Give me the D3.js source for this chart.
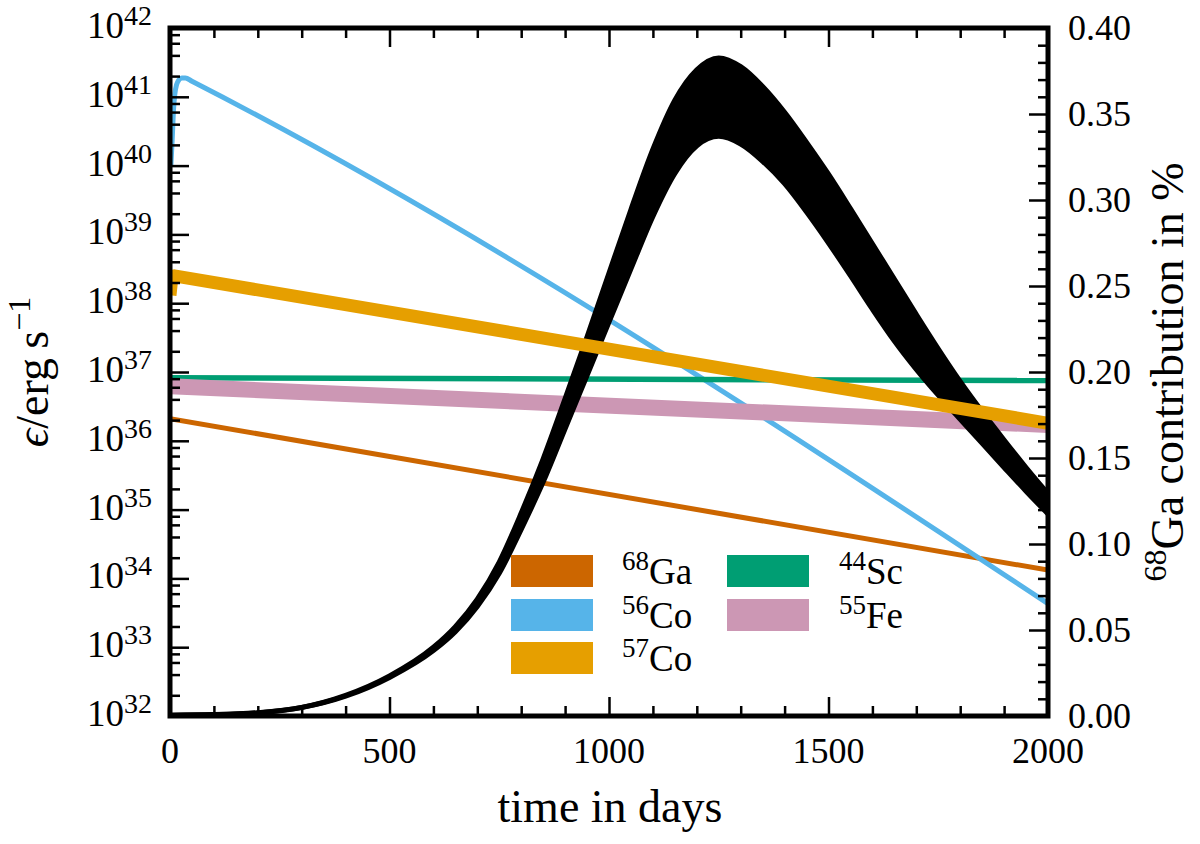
<!DOCTYPE html>
<meta charset="utf-8">
<script src="https://d3js.org/d3.v7.min.js"></script>
<style>
  body { margin: 0; background: #fff; }
  text { font-family: "Liberation Serif", serif; fill: #000; }
</style>
<div id="chart"></div>
<script>

// ---- data ----
const xTicks = [0, 500, 1000, 1500, 2000];
const yExps = [32, 33, 34, 35, 36, 37, 38, 39, 40, 41, 42];
const yRightTicks = [0, 0.05, 0.10, 0.15, 0.20, 0.25, 0.30, 0.35, 0.40];

// energy deposition (erg/s) per isotope
const daysCo56 = [2, 5, 8, 11, 15, 20, 27, 35, 50, 2000];
const co56 = [1.0e40, 2.4e40, 6.5e40, 1.1e41, 1.5e41, 1.75e41, 1.88e41, 1.88e41, 1.68e41, 4.3e33];
const daysCo57 = [0, 4, 10, 2000];
const co57 = [1.3e38, 2.3e38, 2.5e38, 1.8e36];
const daysGa68 = [0, 2000];
const ga68 = [2.1e36, 1.32e34];
const daysSc44 = [0, 2000];
const sc44 = [8.25e36, 7.5e36];
const daysFe55 = [0, 2000];
const fe55 = [6.2e36, 1.7e36];

// 68Ga contribution in % (right axis): upper and lower edge of the band
const daysBand = [0, 100, 200, 300, 400, 500, 600, 650, 700, 750, 800, 850, 900, 950, 1000, 1050, 1100, 1150, 1200, 1250, 1300, 1350, 1400, 1450, 1500, 1550, 1600, 1650, 1700, 1750, 1800, 1850, 1900, 1950, 2000];
const gaUpper = [0.0005, 0.0008, 0.0019, 0.0050, 0.0120, 0.0233, 0.0400, 0.0520, 0.0680, 0.0895, 0.1180, 0.1495, 0.1845, 0.2205, 0.2575, 0.2945, 0.3295, 0.3580, 0.3757, 0.3826, 0.3775, 0.3660, 0.3510, 0.3335, 0.3150, 0.2950, 0.2745, 0.2540, 0.2335, 0.2135, 0.1945, 0.1770, 0.1605, 0.1445, 0.1293];
const gaLower = [0.0005, 0.0008, 0.0018, 0.0049, 0.0115, 0.0224, 0.0380, 0.0490, 0.0637, 0.0830, 0.1085, 0.1360, 0.1670, 0.1980, 0.2290, 0.2600, 0.2905, 0.3155, 0.3315, 0.3370, 0.3325, 0.3225, 0.3095, 0.2930, 0.2750, 0.2560, 0.2365, 0.2180, 0.2015, 0.1865, 0.1725, 0.1585, 0.1445, 0.1307, 0.1175];

const legendItems = [
  {mass: "68", el: "Ga", color: "#CC6600", col: 0, row: 0},
  {mass: "56", el: "Co", color: "#56B4E9", col: 0, row: 1},
  {mass: "57", el: "Co", color: "#E69F00", col: 0, row: 2},
  {mass: "44", el: "Sc", color: "#009E73", col: 1, row: 0},
  {mass: "55", el: "Fe", color: "#CC97B4", col: 1, row: 1}
];

// ---- layout ----
const W = 1200, H = 844;
const pL = 170, pR = 1048, pT = 28, pB = 716;

const svg = d3.select("#chart")
  .append("svg")
    .attr("width", W)
    .attr("height", H);

const x = d3.scaleLinear().domain([0, 2000]).range([pL, pR]);
const y = d3.scaleLog().domain([1e32, 1e42]).range([pB, pT]);
const yR = d3.scaleLinear().domain([0, 0.4]).range([pB, pT]);

svg.append("clipPath").attr("id", "plot")
  .append("rect")
    .attr("x", pL).attr("y", pT)
    .attr("width", pR - pL).attr("height", pB - pT);

const plot = svg.append("g").attr("clip-path", "url(#plot)");

function series(days, vals, color, width, curve) {
  const pts = days.map((d, i) => [d, vals[i]]);
  plot.append("path")
    .datum(pts)
    .attr("fill", "none")
    .attr("stroke", color)
    .attr("stroke-width", width)
    .attr("stroke-linejoin", "round")
    .attr("d", d3.line()
      .curve(curve || d3.curveLinear)
      .x(d => x(d[0]))
      .y(d => y(d[1])));
}

series(daysGa68, ga68, "#CC6600", 5);
series(daysCo56, co56, "#56B4E9", 5, d3.curveMonotoneX);
series(daysSc44, sc44, "#009E73", 5.5);
series(daysFe55, fe55, "#CC97B4", 16);

// black band
const band = daysBand.map((d, i) => ({t: d, lo: gaLower[i], hi: gaUpper[i]}));
plot.append("path")
  .datum(band)
  .attr("fill", "#000")
  .attr("d", d3.area()
    .curve(d3.curveMonotoneX)
    .x(d => x(d.t))
    .y0(d => yR(d.lo))
    .y1(d => yR(d.hi)));
["lo", "hi"].forEach(k => {
  plot.append("path")
    .datum(band)
    .attr("fill", "none")
    .attr("stroke", "#000")
    .attr("stroke-width", 5)
    .attr("d", d3.line()
      .curve(d3.curveMonotoneX)
      .x(d => x(d.t))
      .y(d => yR(d[k])));
});

series(daysCo57, co57, "#E69F00", 13);

// ---- axes: inward ticks on all sides ----
const minorX = d3.range(0, 2001, 100).filter(v => v % 500 !== 0);
const majorLen = 19, minorLen = 10;

function ticks(axis, pos, values, len) {
  const g = svg.append("g")
    .attr("transform", pos)
    .call(axis.tickValues(values).tickSize(len).tickFormat(""));
  g.select(".domain").remove();
  g.selectAll("line").attr("stroke-width", 2.5);
}

ticks(d3.axisBottom(x), `translate(0,${pB})`, xTicks, -majorLen);
ticks(d3.axisBottom(x), `translate(0,${pB})`, minorX, -minorLen);
ticks(d3.axisTop(x), `translate(0,${pT})`, xTicks, -majorLen);
ticks(d3.axisTop(x), `translate(0,${pT})`, minorX, -minorLen);

const majorY = yExps.map(e => Math.pow(10, e));
const minorY = [];
yExps.slice(0, -1).forEach(e => [2, 4, 6, 8].forEach(m => minorY.push(m * Math.pow(10, e))));
ticks(d3.axisLeft(y), `translate(${pL},0)`, majorY, -majorLen);
ticks(d3.axisLeft(y), `translate(${pL},0)`, minorY, -minorLen);

const minorR = d3.range(0, 41).map(v => v / 100).filter((v, i) => i % 5 !== 0);
ticks(d3.axisRight(yR), `translate(${pR},0)`, yRightTicks, -majorLen);
ticks(d3.axisRight(yR), `translate(${pR},0)`, minorR, -minorLen);

// frame
svg.append("rect")
  .attr("x", pL).attr("y", pT)
  .attr("width", pR - pL).attr("height", pB - pT)
  .attr("fill", "none")
  .attr("stroke", "#000")
  .attr("stroke-width", 5);

// tick labels
svg.selectAll(".xl").data(xTicks).join("text")
  .attr("x", d => x(d))
  .attr("y", 763)
  .attr("text-anchor", "middle")
  .style("font-size", "36px")
  .text(d => d);

const yl = svg.selectAll(".yl").data(yExps).join("text")
  .attr("x", 152)
  .attr("y", d => y(Math.pow(10, d)) + 10)
  .attr("text-anchor", "end")
  .style("font-size", "37px");
yl.append("tspan").text("10");
yl.append("tspan").attr("dy", -13).style("font-size", "28px").text(d => d);

svg.selectAll(".yr").data(yRightTicks).join("text")
  .attr("x", 1068)
  .attr("y", d => yR(d) + 12)
  .style("font-size", "36px")
  .text(d => d3.format(".2f")(d));

// axis titles
svg.append("text")
  .attr("x", 610).attr("y", 822)
  .attr("text-anchor", "middle")
  .style("font-size", "46px")
  .text("time in days");

const lt = svg.append("text")
  .attr("transform", "translate(48,372) rotate(-90)")
  .attr("text-anchor", "middle")
  .style("font-size", "46px");
lt.append("tspan").style("font-style", "italic").text("ϵ");
lt.append("tspan").text("/erg\u2009s");
lt.append("tspan").attr("dy", -18).style("font-size", "32px").text("\u22121");

const rt = svg.append("text")
  .attr("transform", "translate(1183,372) rotate(-90)")
  .attr("text-anchor", "middle")
  .style("font-size", "46px");
rt.append("tspan").attr("dy", -17).style("font-size", "32px").text("68");
rt.append("tspan").attr("dy", 17).text("Ga contribution in %");

// legend
const legCol = [511, 727], legRow = [571, 615, 658], labCol = [622, 839];
legendItems.forEach(d => {
  svg.append("rect")
    .attr("x", legCol[d.col])
    .attr("y", legRow[d.row] - 16)
    .attr("width", 82)
    .attr("height", 32)
    .attr("fill", d.color);
  const t = svg.append("text")
    .attr("x", labCol[d.col])
    .attr("y", legRow[d.row] + 13)
    .style("font-size", "37px");
  t.append("tspan").attr("dy", -14).style("font-size", "27px").text(d.mass);
  t.append("tspan").attr("dy", 14).text(d.el);
});

</script>
